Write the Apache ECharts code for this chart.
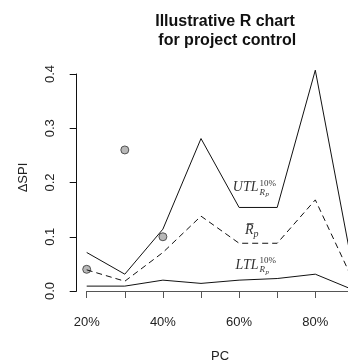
<!DOCTYPE html>
<html><head><meta charset="utf-8">
<script src="https://cdn.jsdelivr.net/npm/echarts@6/dist/echarts.min.js"></script>
<style>html,body{margin:0;padding:0;background:#fff;overflow:hidden}#c{width:348px;height:364px}</style>
</head><body><div id="c"></div>
<script>
const pc = [0.2, 0.3, 0.4, 0.5, 0.6, 0.7, 0.8, 0.9];
const utl = [0.071, 0.031, 0.114, 0.281, 0.154, 0.154, 0.407, 0.036];
const rbar = [0.039, 0.018, 0.071, 0.138, 0.088, 0.088, 0.168, 0.018];
const ltl = [0.009, 0.009, 0.020, 0.014, 0.020, 0.023, 0.031, 0.002];
const obsPc = [0.2, 0.3, 0.4];
const obsVal = [0.040, 0.260, 0.100];
const xTicks = [0.2, 0.4, 0.6, 0.8];
const yTicks = [0, 0.1, 0.2, 0.3, 0.4];

const chart = echarts.init(document.getElementById('c'), null, {renderer: 'canvas'});
const pair = (xs, ys) => xs.map((x, i) => [x, ys[i]]);
const lineStyle = (type) => ({color: '#111', width: 1, type: type});

chart.setOption({
  animation: false,
  title: {
    text: 'Illustrative R chart\n for project control',
    left: 220, top: 7, textAlign: 'center',
    textStyle: {fontFamily: 'Liberation Sans', fontWeight: 'bold', fontSize: 16, lineHeight: 19, color: '#111'}
  },
  grid: {left: 86.7, width: 266.7, top: 74, height: 217, containLabel: false, outerBoundsMode: 'none'},
  xAxis: {
    type: 'value', min: 0.2, max: 0.9, interval: 0.1, offset: 6.7,
    name: 'PC', nameLocation: 'middle', nameGap: 52,
    nameTextStyle: {fontFamily: 'Liberation Sans', fontSize: 13, color: '#222'},
    axisLine: {show: true, lineStyle: {color: '#555', width: 1}},
    axisTick: {show: true, length: 7, lineStyle: {color: '#555'}},
    splitLine: {show: false},
    axisLabel: {
      margin: 18, fontFamily: 'Liberation Sans', fontSize: 13, color: '#222',
      formatter: v => { const r = Math.round(v * 10) / 10; return xTicks.some(t => Math.abs(t - r) < 1e-9) ? Math.round(r * 100) + '%' : ''; }
    }
  },
  yAxis: {
    type: 'value', min: yTicks[0], max: yTicks[yTicks.length - 1], interval: 0.1, offset: 10,
    name: 'ΔSPI', nameLocation: 'middle', nameGap: 47, nameRotate: 90,
    nameTextStyle: {fontFamily: 'Liberation Sans', fontSize: 13, color: '#222', padding: [0, 0, 0, 10]},
    axisLine: {show: true, lineStyle: {color: '#111', width: 1}},
    axisTick: {show: true, length: 7, lineStyle: {color: '#111'}},
    splitLine: {show: false},
    axisLabel: {
      rotate: 90, margin: 20, fontFamily: 'Liberation Sans', fontSize: 13, color: '#222',
      formatter: v => v.toFixed(1)
    }
  },
  series: [
    {type: 'line', data: pair(pc, utl), symbol: 'none', clip: false, lineStyle: lineStyle('solid')},
    {type: 'line', data: pair(pc, rbar), symbol: 'none', clip: false, lineStyle: lineStyle([6, 4])},
    {type: 'line', data: pair(pc, ltl), symbol: 'none', clip: false, lineStyle: lineStyle('solid')},
    {type: 'scatter', data: pair(obsPc, obsVal), symbol: 'circle', symbolSize: 8, clip: false,
     itemStyle: {color: '#a6a6a6', borderColor: '#333', borderWidth: 1}}
  ]
});

const mathFont = (sz) => 'italic ' + sz + 'px "Liberation Serif"';
const upFont = (sz) => sz + 'px "Liberation Serif"';
function tlLabel(main, anchor) {
  const p = chart.convertToPixel({gridIndex: 0}, anchor);
  return {
    type: 'group', x: p[0], y: p[1], silent: true,
    children: [
      {type: 'text', x: 0, y: 0, style: {text: main, font: mathFont(14), fill: '#333', align: 'right', verticalAlign: 'middle'}},
      {type: 'text', x: 1, y: -4, style: {text: '10%', font: upFont(9), fill: '#333', align: 'left', verticalAlign: 'middle'}},
      {type: 'text', x: 1, y: 5, style: {text: 'R', font: mathFont(9), fill: '#333', align: 'left', verticalAlign: 'middle'}},
      {type: 'text', x: 7, y: 7, style: {text: 'p', font: mathFont(7), fill: '#333', align: 'left', verticalAlign: 'middle'}}
    ]
  };
}
function rbarLabel(anchor) {
  const p = chart.convertToPixel({gridIndex: 0}, anchor);
  return {
    type: 'group', x: p[0], y: p[1], silent: true,
    children: [
      {type: 'text', x: 0, y: 0, style: {text: 'R', font: mathFont(14), fill: '#333', align: 'right', verticalAlign: 'middle'}},
      {type: 'line', shape: {x1: -6.5, y1: -7, x2: 0, y2: -7}, style: {stroke: '#333', lineWidth: 1}},
      {type: 'text', x: 0, y: 4, style: {text: 'p', font: mathFont(10), fill: '#333', align: 'left', verticalAlign: 'middle'}}
    ]
  };
}
chart.setOption({
  graphic: [
    tlLabel('UTL', [0.651, 0.191]),
    rbarLabel([0.638, 0.111]),
    tlLabel('LTL', [0.651, 0.048])
  ]
});
</script></body></html>
